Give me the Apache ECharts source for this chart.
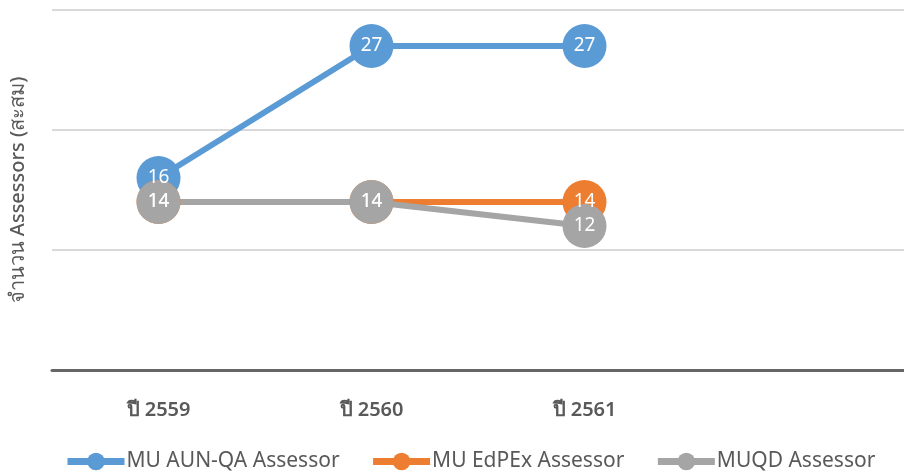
<!DOCTYPE html>
<html>
<head>
<meta charset="utf-8">
<script src="https://cdn.jsdelivr.net/npm/echarts@6/dist/echarts.min.js"></script>
<style>
  html, body { margin: 0; padding: 0; background: #fff; }
  #chart { width: 904px; height: 476px; }
</style>
</head>
<body>
<div id="chart"></div>
<script>
const categories = ['ปี 2559', 'ปี 2560', 'ปี 2561', ''];
const aunQa = [16, 27, 27];
const edpex = [14, 14, 14];
const muqd = [14, 14, 12];

const font = '"Noto Sans", "Open Sans", "DejaVu Sans", sans-serif';
const myChart = echarts.init(document.getElementById('chart'), null, { renderer: 'canvas' });

const makeSeries = (name, data, color) => ({
  name,
  type: 'line',
  data,
  symbol: 'circle',
  symbolSize: 44,
  lineStyle: { color, width: 6 },
  itemStyle: { color },
  label: {
    show: true,
    position: 'inside',
    color: '#fff',
    fontSize: 19,
    fontFamily: font
  },
  emphasis: { disabled: true }
});

myChart.setOption({
  animation: false,
  textStyle: { fontFamily: font },
  grid: { left: 48, right: 0, top: 10, bottom: 106 },
  legend: {
    bottom: 4,
    left: 64,
    padding: 0,
    itemGap: 30,
    itemWidth: 57,
    itemHeight: 22,
    lineStyle: { width: 7 },
    textStyle: { color: '#595959', fontSize: 21, fontFamily: font, padding: [0, 0, 0, -3] }
  },
  xAxis: {
    type: 'category',
    data: categories,
    axisLine: { lineStyle: { color: '#666', width: 3 } },
    axisTick: { show: false },
    axisLabel: { color: '#595959', fontSize: 20, fontWeight: 600, margin: 30, fontFamily: font }
  },
  yAxis: {
    type: 'value',
    min: 0,
    max: 30,
    interval: 10,
    name: 'จำนวน Assessors (สะสม)',
    nameLocation: 'middle',
    nameGap: 24,
    nameTextStyle: { color: '#595959', fontSize: 20, fontWeight: 500, fontFamily: font },
    axisLabel: { show: false },
    axisLine: { show: false },
    axisTick: { show: false },
    splitLine: { lineStyle: { color: '#d9d9d9', width: 2 } }
  },
  series: [
    makeSeries('MU AUN-QA Assessor', aunQa, '#5b9bd5'),
    makeSeries('MU EdPEx Assessor', edpex, '#ed7d31'),
    makeSeries('MUQD Assessor', muqd, '#a5a5a5')
  ]
});
</script>
</body>
</html>
